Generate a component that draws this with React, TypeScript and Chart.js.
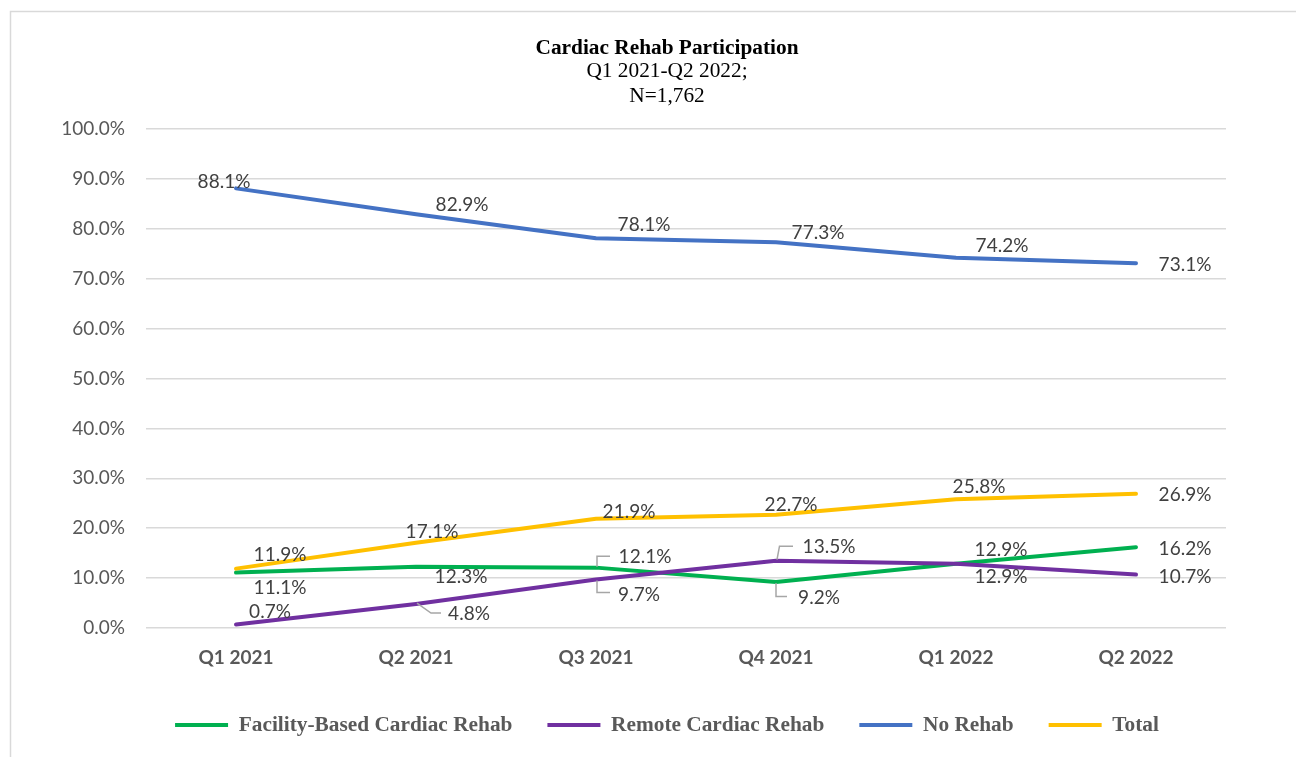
import React, { useEffect, useRef } from "react";
import { Chart, registerables } from "chart.js";

Chart.register(...registerables);

const categories = ["Q1 2021", "Q2 2021", "Q3 2021", "Q4 2021", "Q1 2022", "Q2 2022"];
const seriesNames = ["Facility-Based Cardiac Rehab", "Remote Cardiac Rehab", "No Rehab", "Total"];
const facilityBased = [11.1, 12.3, 12.1, 9.2, 12.9, 16.2];
const remote = [0.7, 4.8, 9.7, 13.5, 12.9, 10.7];
const noRehab = [88.1, 82.9, 78.1, 77.3, 74.2, 73.1];
const total = [11.9, 17.1, 21.9, 22.7, 25.8, 26.9];
const titleText = "Cardiac Rehab Participation";
const subtitleLines = ["Q1 2021-Q2 2022;", "N=1,762"];

const seriesColors = ["#00B050", "#7030A0", "#4472C4", "#FFC000"];

// Label placement (offset of label centre from its point), per series
const labelOffsets: number[][][] = [
  [[44, 15], [45, 10.5], [49, -10.5], [43, 16], [45, -13.5], [49, 2]],
  [[34, -12.8], [53, 10], [43, 15.4], [53, -13.3], [45, 13.7], [49, 2]],
  [[-12, -6.6], [46, -9.3], [48, -13.3], [42, -9.6], [46, -11.7], [49, 2]],
  [[44, -13.6], [16, -11], [33, -7], [15, -9.7], [23, -12.6], [49, 1.2]],
];
const leaderPaths: (number[][] | null)[][] = [
  [null, null, [[1, -1], [1, -11.5], [14, -11.5]], [[0, 1], [0, 14.5], [11, 14.5]], null, null],
  [null, [[1, -1], [15, 9], [25, 9]], [[1, 1], [1, 13], [14, 13]], [[1, -1], [3.5, -14.5], [17, -14.5]], null, null],
  [null, null, null, null, null, null],
  [null, null, null, null, null, null],
];

const framePlugin = {
  id: "frame",
  beforeDraw(chart: any) {
    const ctx = chart.ctx;
    ctx.save();
    ctx.strokeStyle = "#d9d9d9";
    ctx.lineWidth = 1.5;
    ctx.beginPath();
    ctx.moveTo(10.5, chart.height);
    ctx.lineTo(10.5, 11.5);
    ctx.lineTo(chart.width, 11.5);
    ctx.stroke();
    ctx.restore();
  },
};

const pointLabelPlugin = {
  id: "pointLabels",
  afterDatasetsDraw(chart: any) {
    const ctx = chart.ctx;
    ctx.save();
    ctx.font = "19px Lato";
    ctx.fillStyle = "#404040";
    ctx.textAlign = "center";
    ctx.textBaseline = "middle";
    chart.data.datasets.forEach((ds: any, di: number) => {
      const meta = chart.getDatasetMeta(di);
      meta.data.forEach((pt: any, i: number) => {
        const off = labelOffsets[di][i];
        const leader = leaderPaths[di][i];
        if (leader) {
          ctx.beginPath();
          ctx.strokeStyle = "#a6a6a6";
          ctx.lineWidth = 1.5;
          leader.forEach(([lx, ly], k) => {
            if (k === 0) ctx.moveTo(pt.x + lx, pt.y + ly);
            else ctx.lineTo(pt.x + lx, pt.y + ly);
          });
          ctx.stroke();
        }
        ctx.fillText(Number(ds.data[i]).toFixed(1) + "%", pt.x + off[0], pt.y + off[1]);
      });
    });
    ctx.restore();
  },
};

export default function App() {
  const canvasRef = useRef<HTMLCanvasElement | null>(null);

  useEffect(() => {
    if (!canvasRef.current) return;
    const values = [facilityBased, remote, noRehab, total];
    const chart = new Chart(canvasRef.current, {
      type: "line",
      data: {
        labels: categories,
        datasets: values.map((v, i) => ({
          label: seriesNames[i],
          data: v,
          borderColor: seriesColors[i],
          backgroundColor: seriesColors[i],
          borderWidth: 4,
          pointRadius: 0,
          tension: 0,
          borderCapStyle: "round" as const,
          borderJoinStyle: "round" as const,
          order: 3 - i,
        })),
      },
      options: {
        responsive: false,
        animation: false,
        layout: { padding: { left: 108, right: 70, top: 0, bottom: 11.33 } },
        plugins: {
          tooltip: { enabled: false },
          title: {
            display: true,
            text: titleText,
            color: "#000000",
            font: { family: "'Liberation Serif', 'Times New Roman', serif", size: 21.33, weight: "bold", lineHeight: 0.9 },
            padding: { top: 39.3, bottom: 0 },
          },
          subtitle: {
            display: true,
            text: subtitleLines,
            color: "#000000",
            font: { family: "'Liberation Serif', 'Times New Roman', serif", size: 21.33, weight: "normal", lineHeight: 1.172 },
            padding: { top: 0, bottom: 20.5 },
          },
          legend: {
            position: "bottom",
            labels: {
              usePointStyle: true,
              pointStyle: "line",
              pointStyleWidth: 53,
              padding: 35,
              color: "#595959",
              font: { family: "'Liberation Serif', 'Times New Roman', serif", size: 21.33, weight: "bold" },
              sort: (a: any, b: any) => a.datasetIndex - b.datasetIndex,
            },
          },
        },
        scales: {
          x: {
            type: "category",
            offset: true,
            grid: { display: false, drawTicks: false },
            border: { display: false },
            ticks: {
              padding: 18,
              color: "#595959",
              font: { family: "Lato", size: 19, weight: "bold" },
            },
            afterFit: (scale: any) => {
              scale.height = 51.33;
            },
          },
          y: {
            min: 0,
            max: 100,
            grid: { color: "#d9d9d9", lineWidth: 1.5, drawTicks: false },
            border: { display: false },
            ticks: {
              stepSize: 10,
              padding: 21,
              color: "#595959",
              font: { family: "Lato", size: 19 },
              callback: (v: any) => Number(v).toFixed(1) + "%",
            },
            afterFit: (scale: any) => {
              scale.width = 38;
              // let the tick labels extend past the narrow axis box
              scale._computeLabelArea = () => undefined;
            },
          },
        },
      },
      plugins: [framePlugin, pointLabelPlugin],
    });
    return () => chart.destroy();
  }, []);

  return (
    <div style={{ position: "fixed", left: 0, top: 0, width: 1296, height: 757, background: "#ffffff" }}>
      <canvas ref={canvasRef} width={1296} height={757} style={{ width: 1296, height: 757, display: "block" }} />
    </div>
  );
}
